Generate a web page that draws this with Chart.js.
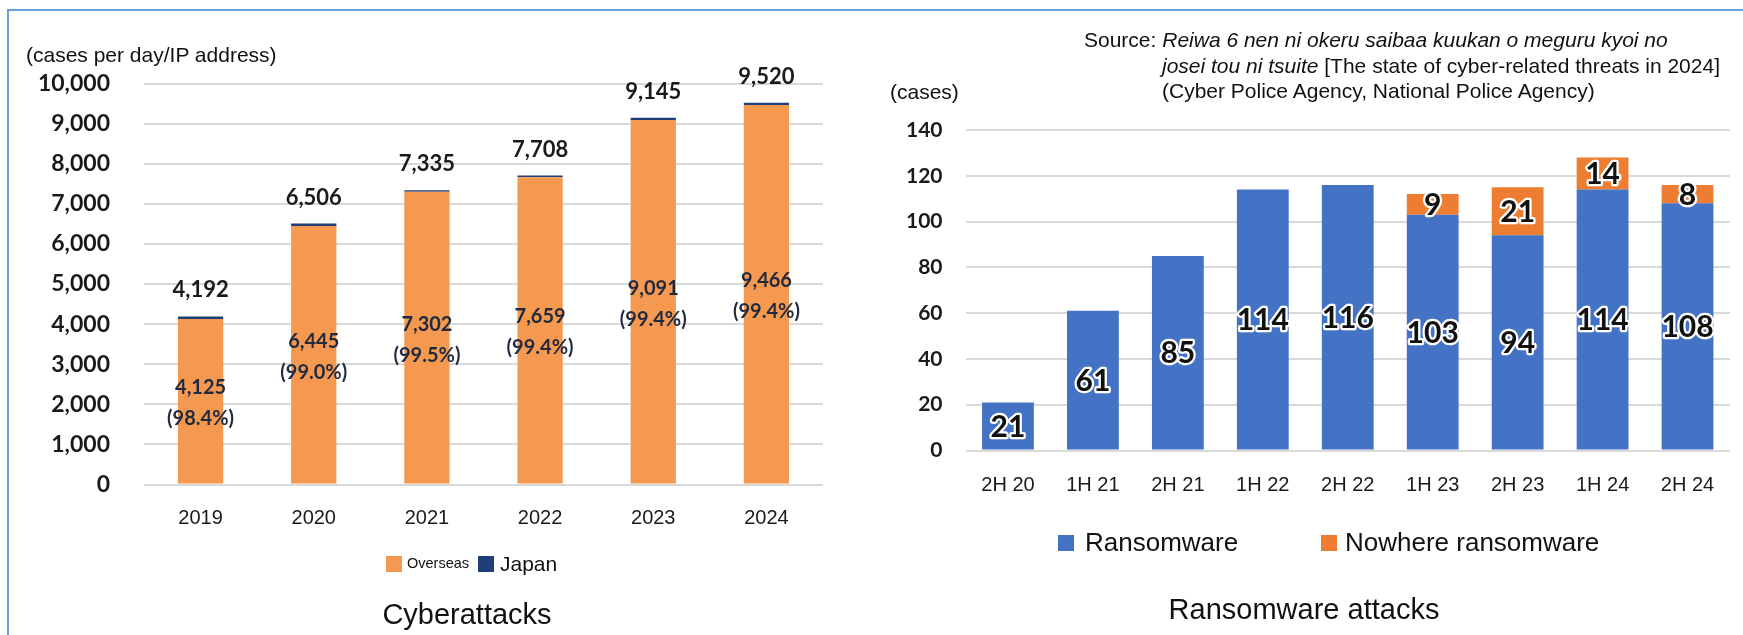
<!DOCTYPE html>
<html>
<head>
<meta charset="utf-8">
<script src="https://cdn.jsdelivr.net/npm/chart.js@4.4.1/dist/chart.umd.min.js"></script>
<style>
  html, body { margin: 0; padding: 0; background: #fff; }
  body { width: 1743px; height: 635px; position: relative; overflow: hidden;
         font-family: "Liberation Sans", Arial, sans-serif; color: #111; }
  .frame { position: absolute; left: 7px; top: 9px; width: 1800px; height: 700px;
           border-left: 2px solid #6a9fd8; border-top: 2px solid #6a9fd8; }
  canvas { position: absolute; top: 0; }
  .t { position: absolute; white-space: nowrap; }
  .unit { font-size: 21px; line-height: 24px; }
  .src { font-size: 21px; line-height: 24px; }
  .title { font-size: 29px; line-height: 34px; transform: translateX(-50%); }
  .lg { position: absolute; white-space: nowrap; }
  .sw { position: absolute; }
</style>
</head>
<body>
<div class="frame"></div>

<canvas id="cyber" width="870" height="635" style="left:0"></canvas>
<canvas id="ransom" width="873" height="635" style="left:870px"></canvas>

<div class="t unit" style="left:26px; top:43px">(cases per day/IP address)</div>
<div class="t unit" style="left:890px; top:80px">(cases)</div>

<div class="t src" style="left:1084px; top:28px">Source: <i>Reiwa 6 nen ni okeru saibaa kuukan o meguru kyoi no</i></div>
<div class="t src" style="left:1162px; top:54px"><i>josei tou ni tsuite</i> [The state of cyber-related threats in 2024]</div>
<div class="t src" style="left:1162px; top:79px">(Cyber Police Agency, National Police Agency)</div>

<div class="t title" style="left:467px; top:597px">Cyberattacks</div>
<div class="t title" style="left:1304px; top:592px">Ransomware attacks</div>

<div id="legendCyber"></div>
<div id="legendRansom"></div>

<script>
// ---- Cyberattacks (cases per day per IP address) ----
const years = ['2019', '2020', '2021', '2022', '2023', '2024'];
const overseas = [4125, 6445, 7302, 7659, 9091, 9466];
const japan = [67, 61, 33, 49, 54, 54];
const overseasShare = ['98.4%', '99.0%', '99.5%', '99.4%', '99.4%', '99.4%'];
const cyberTicks = { min: 0, max: 10000, step: 1000 };

// ---- Ransomware attacks (cases, half-year) ----
const halves = ['2H 20', '1H 21', '2H 21', '1H 22', '2H 22', '1H 23', '2H 23', '1H 24', '2H 24'];
const ransomware = [21, 61, 85, 114, 116, 103, 94, 114, 108];
const noWare = [0, 0, 0, 0, 0, 9, 21, 14, 8];
const ransomTicks = { min: 0, max: 140, step: 20 };

const COLORS = {
  overseas: '#F4994F',
  japan: '#203F78',
  ransomware: '#4472C4',
  noWare: '#ED7D31',
  grid: '#d9d9d9'
};

const fmt = n => n.toLocaleString('en-US');

// Labels inside and above the stacked cyberattack bars
const cyberLabels = {
  id: 'cyberLabels',
  afterDatasetsDraw(chart) {
    const ctx = chart.ctx;
    const low = chart.getDatasetMeta(0).data;
    const high = chart.getDatasetMeta(1).data;
    ctx.save();
    ctx.textAlign = 'center';
    ctx.textBaseline = 'middle';
    low.forEach((bar, i) => {
      const mid = (bar.y + bar.base) / 2 + 2;
      ctx.fillStyle = '#1f2a3f';
      ctx.font = 'bold 20px Lato';
      ctx.fillText(fmt(overseas[i]), bar.x, mid - 15.5);
      ctx.fillText('(' + overseasShare[i] + ')', bar.x, mid + 15.5);
      ctx.fillStyle = '#1a1a1a';
      ctx.font = 'bold 22px Lato';
      ctx.fillText(fmt(overseas[i] + japan[i]), bar.x, high[i].y - 26);
    });
    ctx.restore();
  }
};

// Outlined value labels centred in each ransomware segment
const ransomLabels = {
  id: 'ransomLabels',
  afterDatasetsDraw(chart) {
    const ctx = chart.ctx;
    ctx.save();
    ctx.textAlign = 'center';
    ctx.textBaseline = 'middle';
    ctx.font = 'bold 30px Lato';
    ctx.lineJoin = 'round';
    chart.data.datasets.forEach((ds, di) => {
      chart.getDatasetMeta(di).data.forEach((bar, i) => {
        const v = ds.data[i];
        if (!v) return;
        const y = (bar.y + bar.base) / 2 + 1;
        ctx.lineWidth = 4.5;
        ctx.strokeStyle = '#ffffff';
        ctx.strokeText(String(v), bar.x, y);
        ctx.fillStyle = '#111111';
        ctx.fillText(String(v), bar.x, y);
      });
    });
    ctx.restore();
  }
};

function axisOptions(ticks, yWidth, yPad, tickFont, xPad) {
  return {
    x: {
      stacked: true,
      grid: { display: false },
      border: { display: false },
      ticks: { color: '#1a1a1a', padding: xPad, font: { family: 'Liberation Sans', size: 20 } },
      afterFit(s) { s.height = 50; }
    },
    y: {
      stacked: true,
      min: ticks.min,
      max: ticks.max,
      border: { display: false },
      grid: { color: COLORS.grid, lineWidth: 2, drawTicks: false },
      ticks: {
        stepSize: ticks.step,
        color: '#1a1a1a',
        padding: yPad,
        font: { family: 'Lato', weight: 'bold', size: tickFont },
        callback: v => fmt(v)
      },
      afterFit(s) { s.width = yWidth; }
    }
  };
}

function buildLegend(el, datasets, items) {
  datasets.forEach((ds, i) => {
    const it = items[i];
    const sw = document.createElement('div');
    sw.className = 'sw';
    sw.style.cssText = `left:${it.box}px;top:${it.cy - it.size / 2}px;width:${it.size}px;height:${it.size}px;background:${ds.backgroundColor};`;
    el.appendChild(sw);
    const tx = document.createElement('div');
    tx.className = 'lg';
    tx.textContent = ds.label;
    tx.style.cssText = `left:${it.text}px;top:${it.cy - it.font * 0.6}px;font-size:${it.font}px;line-height:${it.font * 1.2}px;`;
    el.appendChild(tx);
  });
}

function draw() {
  Chart.defaults.font.family = 'Liberation Sans';

  const cyberSets = [
    { label: 'Overseas', data: overseas, backgroundColor: COLORS.overseas,
      barPercentage: 0.4, categoryPercentage: 1 },
    { label: 'Japan', data: japan, backgroundColor: COLORS.japan,
      barPercentage: 0.4, categoryPercentage: 1 }
  ];
  new Chart(document.getElementById('cyber'), {
    type: 'bar',
    data: { labels: years, datasets: cyberSets },
    options: {
      responsive: false, animation: false, devicePixelRatio: 1,
      layout: { padding: { left: 0, right: 47, top: 83.5, bottom: 100.5 } },
      plugins: { legend: { display: false }, tooltip: { enabled: false } },
      scales: axisOptions(cyberTicks, 144, 34, 23, 14)
    },
    plugins: [cyberLabels]
  });

  const ransomSets = [
    { label: 'Ransomware', data: ransomware, backgroundColor: COLORS.ransomware,
      barPercentage: 0.61, categoryPercentage: 1 },
    { label: 'Nowhere ransomware', data: noWare, backgroundColor: COLORS.noWare,
      barPercentage: 0.61, categoryPercentage: 1 }
  ];
  new Chart(document.getElementById('ransom'), {
    type: 'bar',
    data: { labels: halves, datasets: ransomSets },
    options: {
      responsive: false, animation: false, devicePixelRatio: 1,
      layout: { padding: { left: 0, right: 13, top: 130, bottom: 134.5 } },
      plugins: { legend: { display: false }, tooltip: { enabled: false } },
      scales: axisOptions(ransomTicks, 95.5, 23, 21, 14.5)
    },
    plugins: [ransomLabels]
  });

  buildLegend(document.getElementById('legendCyber'), cyberSets, [
    { box: 386, text: 407, cy: 564, size: 16, font: 14.5 },
    { box: 478, text: 500, cy: 564, size: 16, font: 21 }
  ]);
  buildLegend(document.getElementById('legendRansom'), ransomSets, [
    { box: 1058, text: 1085, cy: 543, size: 16, font: 26 },
    { box: 1321, text: 1345, cy: 543, size: 16, font: 26 }
  ]);
}

const fontsReady = Promise.all([
  document.fonts.load('bold 22px Lato'),
  document.fonts.load('20px "Liberation Sans"')
]).catch(() => {});
Promise.race([fontsReady, new Promise(r => setTimeout(r, 1500))]).then(draw);
</script>
</body>
</html>
